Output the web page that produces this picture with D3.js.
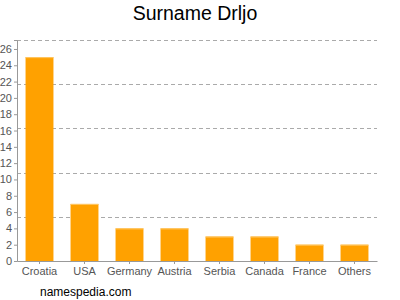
<!DOCTYPE html>
<html>
<head>
<meta charset="utf-8">
<script src="https://cdn.jsdelivr.net/npm/d3@7"></script>
<style>
  body { margin: 0; background: #fff; }
  text { font-family: Arial, "Liberation Sans", sans-serif; }
</style>
</head>
<body>
<div id="chart"></div>
<script>
// data
const countries = ["Croatia", "USA", "Germany", "Austria", "Serbia", "Canada", "France", "Others"];
const counts = [25, 7, 4, 4, 3, 3, 2, 2];
const yTicks = [0, 2, 4, 6, 8, 10, 12, 14, 16, 18, 20, 22, 24, 26];
const yMax = 27.1;

const W = 400, H = 300;
const margin = {top: 40, right: 23, bottom: 39, left: 17};
const width = W - margin.left - margin.right;
const height = H - margin.top - margin.bottom;

const svg = d3.select("#chart").append("svg")
    .attr("width", W).attr("height", H);

svg.append("text")
    .attr("x", 195).attr("y", 20)
    .attr("text-anchor", "middle")
    .style("font-size", "19.5px").attr("fill", "#000")
    .text("Surname Drljo");

const g = svg.append("g").attr("transform", `translate(${margin.left},${margin.top})`);

const x = d3.scaleBand().domain(countries).range([0, width]).paddingInner(0.38).paddingOuter(0.19);
const y = d3.scaleLinear().domain([0, yMax]).range([height, 0]);

// dashed grid (5 even steps)
const gridVals = d3.range(1, 6).map(i => yMax * i / 5);
g.selectAll(".grid").data(gridVals).enter().append("line")
    .attr("x1", 0).attr("x2", width)
    .attr("y1", d => Math.round(y(d)) + 0.5).attr("y2", d => Math.round(y(d)) + 0.5)
    .attr("stroke", "#aaa").attr("stroke-dasharray", "4,3");

// bars
g.selectAll(".bar").data(countries).enter().append("rect")
    .attr("x", d => x(d)).attr("width", x.bandwidth())
    .attr("y", (d, i) => y(counts[i])).attr("height", (d, i) => height - y(counts[i]))
    .attr("fill", "#ffa100");
g.selectAll(".bartop").data(countries).enter().append("line")
    .attr("x1", d => x(d)).attr("x2", d => x(d) + x.bandwidth())
    .attr("y1", (d, i) => y(counts[i]) + 0.5).attr("y2", (d, i) => y(counts[i]) + 0.5)
    .attr("stroke", "#ffc766");

// y axis
const yAxis = g.append("g")
    .call(d3.axisLeft(y).tickValues(yTicks).tickSize(3).tickPadding(2));
yAxis.select(".domain").attr("stroke", "#999");
yAxis.selectAll(".tick line").attr("stroke", "#999");
yAxis.selectAll("text").attr("fill", "#555").style("font-size", "11px");

// x axis
const xAxis = g.append("g").attr("transform", `translate(0,${height})`)
    .call(d3.axisBottom(x).tickSize(3).tickSizeOuter(0).tickPadding(3));
xAxis.select(".domain").attr("stroke", "#999");
xAxis.selectAll(".tick line").attr("stroke", "#999");
xAxis.selectAll("text").attr("fill", "#555").style("font-size", "11px");

svg.append("text")
    .attr("x", 40).attr("y", 296)
    .style("font-size", "12px").attr("fill", "#000")
    .text("namespedia.com");
</script>
</body>
</html>
